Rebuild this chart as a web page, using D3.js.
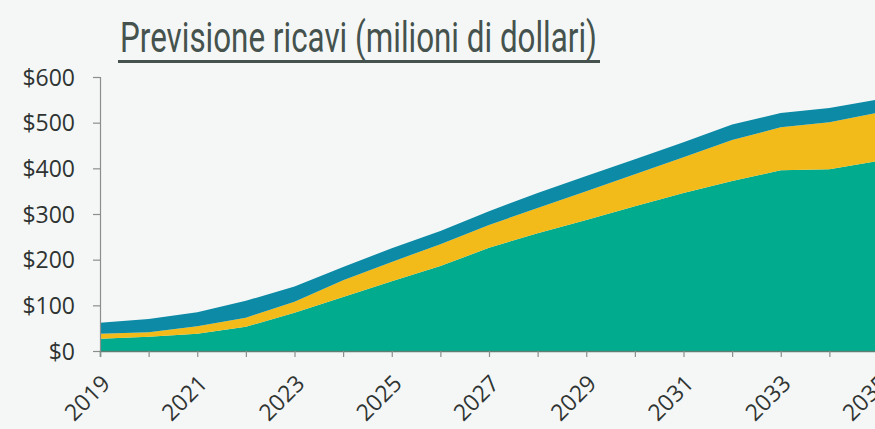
<!DOCTYPE html>
<html>
<head>
<meta charset="utf-8">
<script src="https://cdn.jsdelivr.net/npm/d3@7/dist/d3.min.js"></script>
<style>
  html, body { margin: 0; padding: 0; background: #f4f7f6; }
  svg { display: block; }
</style>
</head>
<body>
<svg id="chart" width="875" height="429"></svg>
<script>
// ---- data (values in millions of dollars) ----
const years = [2019, 2020, 2021, 2022, 2023, 2024, 2025, 2026, 2027, 2028, 2029, 2030, 2031, 2032, 2033, 2034, 2035];
const seriesGreen  = [27, 31, 38, 53, 84, 118, 153, 186, 226, 258, 287, 317, 346, 372, 396, 398, 416];
const seriesYellow = [11, 10, 16, 20, 24, 37, 42, 48, 50, 55, 63, 70, 78, 90, 94, 103, 106];
const seriesBlue   = [24, 29, 31, 37, 33, 29, 30, 29, 30, 33, 33, 33, 33, 34, 31, 31, 29];
const yTicks = [0, 100, 200, 300, 400, 500, 600];
const xLabelYears = [2019, 2021, 2023, 2025, 2027, 2029, 2031, 2033, 2035];
const titleText = "Previsione ricavi (milioni di dollari)";

const seriesKeys = ["green", "yellow", "blue"];
const colors = { green: "#00ab8e", yellow: "#f3bb1a", blue: "#0c8aa6" };

const table = years.map((y, i) => ({
  year: y, green: seriesGreen[i], yellow: seriesYellow[i], blue: seriesBlue[i]
}));

const svg = d3.select("#chart");
const W = 875, H = 429;
svg.append("rect").attr("width", W).attr("height", H).attr("fill", "#f4f7f6");

const x = d3.scaleLinear().domain([2019, 2035]).range([100, 878]);
const y = d3.scaleLinear().domain([0, 600]).range([351, 77]);

const stack = d3.stack().keys(seriesKeys);
const layers = stack(table);

const area = d3.area()
  .x(d => x(d.data.year))
  .y0(d => y(d[0]))
  .y1(d => y(d[1]));

svg.append("g").selectAll("path")
  .data(layers)
  .join("path")
  .attr("d", area)
  .attr("fill", d => colors[d.key]);

const labelFont = "'Open Sans', 'Liberation Sans', sans-serif";

// y axis
const yAxis = d3.axisLeft(y).tickValues(yTicks).tickSize(7).tickFormat(d => "$" + d);
const gy = svg.append("g").attr("transform", "translate(100,0)").call(yAxis);
gy.select(".domain").attr("stroke", "#8a8f8d").attr("stroke-width", 1.2);
gy.selectAll(".tick line").attr("stroke", "#8a8f8d").attr("stroke-width", 1.2);
gy.selectAll(".tick text")
  .attr("x", -25)
  .attr("dy", "0.36em")
  .attr("fill", "#2f3432")
  .style("font-family", labelFont)
  .style("font-size", "23px");

// x axis
const xAxis = d3.axisBottom(x).tickValues(years).tickSize(6).tickFormat(d => xLabelYears.includes(d) ? String(d) : "");
const gx = svg.append("g").attr("transform", "translate(0,351)").call(xAxis);
gx.select(".domain").attr("stroke", "#5f7f76").attr("stroke-width", 1.5);
gx.selectAll(".tick line").attr("stroke", "#8a8f8d").attr("stroke-width", 1.2);
gx.selectAll(".tick text")
  .attr("fill", "#2f3432")
  .attr("y", 0)
  .attr("dy", 0)
  .attr("text-anchor", "end")
  .attr("transform", "translate(11,34) rotate(-45)")
  .style("font-family", labelFont)
  .style("font-size", "23px");

// title
svg.append("text")
  .attr("x", 120).attr("y", 52)
  .attr("fill", "#45524d")
  .attr("textLength", 477)
  .attr("lengthAdjust", "spacingAndGlyphs")
  .style("font-family", "Roboto, 'DejaVu Sans Condensed', sans-serif")
  .style("font-weight", "400")
  .style("font-size", "43px")
  .text(titleText);
svg.append("line")
  .attr("x1", 118).attr("x2", 600).attr("y1", 61.5).attr("y2", 61.5)
  .attr("stroke", "#45524d").attr("stroke-width", 3);
</script>
</body>
</html>
